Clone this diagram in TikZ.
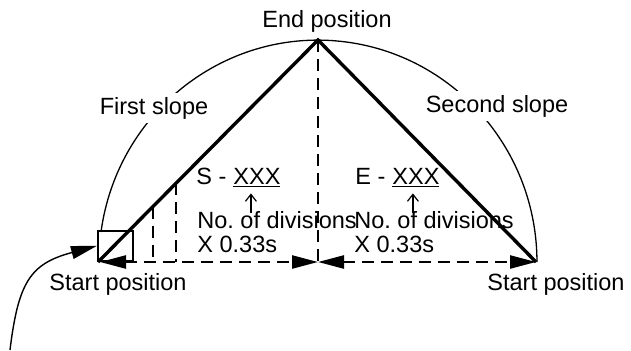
\documentclass[tikz,border=0pt]{standalone}
\usepackage{fontspec}
\setmainfont{Liberation Sans}
\usetikzlibrary{arrows.meta,calc}

\begin{document}
\begin{tikzpicture}[x=0.5pt,y=0.5pt,
  lbl/.style={inner sep=0pt,font=\fontsize{11.75}{12}\selectfont},
  slope/.style={line width=1.7pt},
  guide/.style={line width=1.2pt,dash pattern=on 6pt off 3.5pt},
  bigtip/.style={-{Triangle[length=13pt,width=6.5pt]}},
  span/.style={guide,{Triangle[length=13pt,width=6.5pt]}-{Triangle[length=13pt,width=6.5pt]}},
  pointer/.style={line width=0.6pt,-{Straight Barb[length=3.5pt,width=5.5pt]}}]
\useasboundingbox (0,0) rectangle (631,350);
\coordinate (top) at (318,310);
\coordinate (left) at (98,88);
\coordinate (right) at (536,88);
\coordinate (base) at (318,88);
\coordinate (tipl) at (100,88);
\coordinate (arcstart) at (101,118);
\coordinate (cue) at (10,0);
\coordinate (cut1) at ($(left)!0.25!(top)$);
\coordinate (cut2) at ($(left)!0.355!(top)$);
\node[draw,line width=1.2pt,inner sep=0pt,minimum width=17.5pt,minimum height=15pt,anchor=south west] (startbox) at (97,88) {};
\draw[line width=0.65pt] (arcstart) arc[start angle=172.2,end angle=0,x radius=109.5pt,y radius=111pt];
\draw[guide] (top) -- (base);
\draw[guide] (cut1) -- (cut1 |- base);
\draw[guide] (cut2) -- (cut2 |- base);
\draw[span] (tipl) -- (base);
\draw[span] (base) -- (right);
\draw[slope] (left) -- (top) -- (right);
\draw[line width=0.7pt,bigtip] (cue) to[out=83,in=195,looseness=1.3] (startbox.west);
\node[lbl,anchor=base] (endpos) at (327,323) {End position};
\node[lbl,anchor=base,fill=white,inner sep=2pt] (first) at (154,236) {First slope};
\node[lbl,anchor=base,fill=white,inner sep=2pt] (second) at (497,238) {Second slope};
\node[lbl,anchor=base west] (stag) at (196,166) {S -};
\node[lbl,anchor=base west] (sxxx) at (233,166) {\underline{XXX}};
\node[lbl,anchor=base west,align=left] (sdiv) at (197,98) {No.\ of divisions\\X 0.33s};
\node[lbl,anchor=base west] (etag) at (355,166) {E -};
\node[lbl,anchor=base west] (exxx) at (392,166) {\underline{XXX}};
\node[lbl,anchor=base west,align=left] (ediv) at (354,98) {No.\ of divisions\\X 0.33s};
\node[lbl,anchor=base] (startl) at (118,60) {Start position};
\node[lbl,anchor=base] (startr) at (556,60) {Start position};
\draw[pointer] ($(sxxx.south |- sdiv.north)+(-6,-2)$) -- ($(sxxx.south)+(-6,-5)$);
\draw[pointer] ($(exxx.south |- ediv.north)+(-3,-2)$) -- ($(exxx.south)+(-3,-5)$);
\end{tikzpicture}
\end{document}
